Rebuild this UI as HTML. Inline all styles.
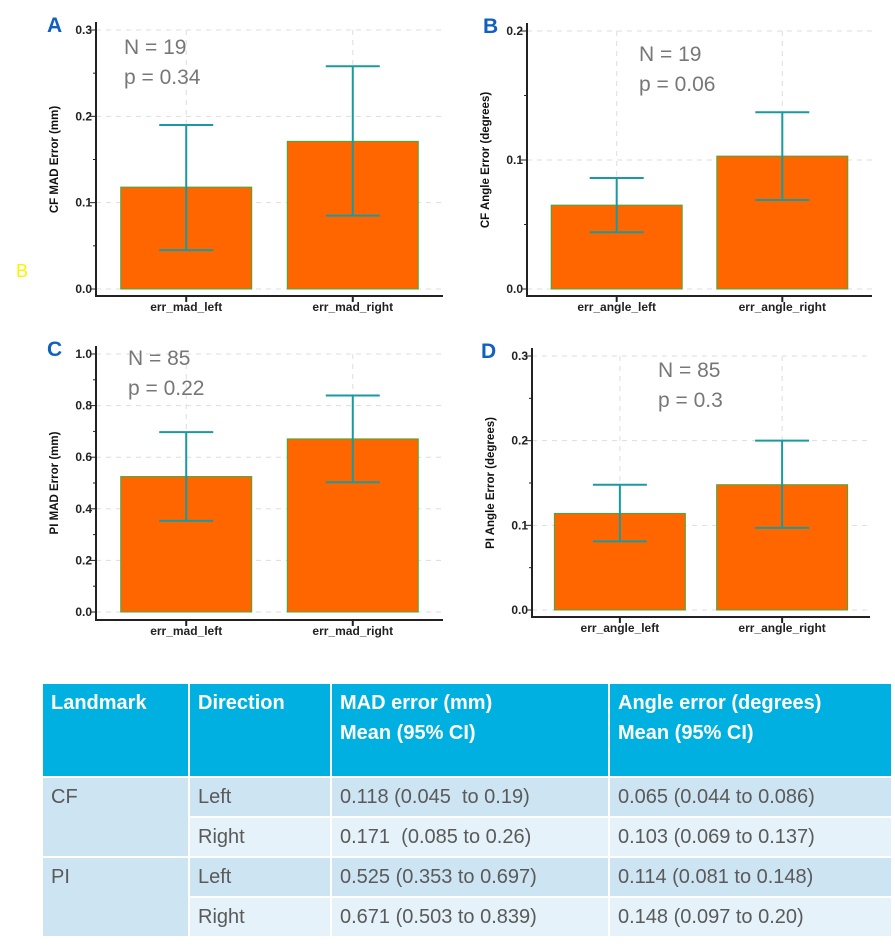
<!DOCTYPE html>
<html><head><meta charset="utf-8">
<style>
body{margin:0;background:#fff;width:895px;height:951px;overflow:hidden;font-family:"Liberation Sans",sans-serif;}
svg{position:absolute;left:0;top:0}
table{position:absolute;left:41px;top:682px;border-collapse:separate;border-spacing:2px;font-family:"Liberation Sans",sans-serif;}
td,th{padding:0 8px;text-align:left;vertical-align:top;font-size:20px;color:#5a5a5a;}
th{background:#00b0e0;color:#fff;font-weight:bold;height:88px;padding-top:4px;line-height:30px}
td{height:38px;line-height:38px}
.d1{background:#cde4f3}.d2{background:#e6f2fa}
</style></head><body>
<svg id="chart" width="895" height="680"></svg>
<table>
<tr><th style="width:129px">Landmark</th><th style="width:124px">Direction</th><th style="width:260px">MAD error (mm)<br>Mean (95% CI)</th><th style="width:265px">Angle error (degrees)<br>Mean (95% CI)</th></tr>
<tr><td rowspan="2" class="d1">CF</td><td class="d1">Left</td><td class="d1">0.118 (0.045&nbsp; to 0.19)</td><td class="d1">0.065 (0.044 to 0.086)</td></tr>
<tr><td class="d2">Right</td><td class="d2">0.171&nbsp; (0.085 to 0.26)</td><td class="d2">0.103 (0.069 to 0.137)</td></tr>
<tr><td rowspan="2" class="d1">PI</td><td class="d1">Left</td><td class="d1">0.525 (0.353 to 0.697)</td><td class="d1">0.114 (0.081 to 0.148)</td></tr>
<tr><td class="d2">Right</td><td class="d2">0.671 (0.503 to 0.839)</td><td class="d2">0.148 (0.097 to 0.20)</td></tr>
</table>
<script>
const madCats=["err_mad_left","err_mad_right"];
const angCats=["err_angle_left","err_angle_right"];
const cfMad=[0.118,0.171], cfMadLo=[0.045,0.085], cfMadHi=[0.19,0.258];
const cfAng=[0.065,0.103], cfAngLo=[0.044,0.069], cfAngHi=[0.086,0.137];
const piMad=[0.525,0.671], piMadLo=[0.353,0.503], piMadHi=[0.697,0.839];
const piAng=[0.114,0.148], piAngLo=[0.081,0.097], piAngHi=[0.148,0.20];
const ticksA=["0.0","0.1","0.2","0.3"], ticksB=["0.0","0.1","0.2"], ticksC=["0.0","0.2","0.4","0.6","0.8","1.0"], ticksD=["0.0","0.1","0.2","0.3"];
const svg=document.getElementById('chart');
const NS="http://www.w3.org/2000/svg";
function mk(t,a,p){const e=document.createElementNS(NS,t);for(const k in a)e.setAttribute(k,a[k]);(p||svg).appendChild(e);return e;}
function chart(o){
 const g=mk('g',{});
 
 
 const max=parseFloat(o.ticks[o.ticks.length-1]);
 const y=v=>o.y0-(v/max)*(o.y0-o.yTop);
 const n=o.cats.length;
 const cx=i=>o.ax+(o.x1-o.ax)*(0.26+0.48*i/(n-1));
 const bw=131;
 o.ticks.forEach((t,i)=>{const v=parseFloat(t);mk('line',{x1:o.ax,x2:o.x1,y1:y(v),y2:y(v),stroke:'#ddd','stroke-dasharray':'5,5'},g);
  const tl=mk('text',{x:o.ax-4,y:y(v)+4,'text-anchor':'end','font-size':12,'font-weight':'bold',fill:'#222'},g);tl.textContent=t;
  
  mk('line',{x1:o.ax-6,x2:o.ax,y1:y(v),y2:y(v),stroke:'#222'},g);
  if(i<o.ticks.length-1){const m=(v+parseFloat(o.ticks[i+1]))/2;mk('line',{x1:o.ax-3,x2:o.ax,y1:y(m),y2:y(m),stroke:'#222'},g);}
 });
 o.cats.forEach((c,i)=>mk('line',{x1:cx(i),x2:cx(i),y1:o.yTop,y2:o.y0,stroke:'#ddd','stroke-dasharray':'5,5'},g));
 o.vals.forEach((v,i)=>{
  const r=mk('rect',{x:cx(i)-bw/2,y:y(v),width:bw,height:o.y0-y(v),fill:'#ff6600',stroke:'#3cae3c','stroke-width':1},g);
  
  const e=mk('path',{d:`M${cx(i)-27},${y(o.hi[i])}H${cx(i)+27}M${cx(i)},${y(o.hi[i])}V${y(o.lo[i])}M${cx(i)-27},${y(o.lo[i])}H${cx(i)+27}`,stroke:'#1a9aa0','stroke-width':2,fill:'none'},g);
  
  mk('line',{x1:cx(i),x2:cx(i),y1:o.axY,y2:o.axY+6,stroke:'#222','stroke-width':2},g);
  const l=mk('text',{x:cx(i),y:o.axY+15,'text-anchor':'middle','font-size':12,'font-weight':'bold',fill:'#222'},g);l.textContent=o.cats[i];
  
 });
 mk('path',{d:`M${o.ax},${o.yTop-8}V${o.axY}H${o.x1}`,stroke:'#222','stroke-width':2,fill:'none'},g);
 const yl=mk('text',{transform:`translate(${o.ax-38},${(o.yTop+o.y0)/2}) rotate(-90)`,'text-anchor':'middle','font-size':11.5,'font-weight':'bold',fill:'#111'},g);yl.textContent=o.ylab;
 
 const L=mk('text',{x:o.lx,y:o.yTop+2,'font-size':21,'font-weight':'bold',fill:'#1060c0'},g);L.textContent=o.id;
 
 o.ann.forEach((s,i)=>{const t=mk('text',{x:o.nx,y:o.ny+i*30,'font-size':21,fill:'#777'},g);t.textContent=s;
  });
}
chart({id:'A',ax:96,x1:443,yTop:30,y0:289,axY:296,ticks:ticksA,cats:madCats,vals:cfMad,lo:cfMadLo,hi:cfMadHi,ylab:'CF MAD Error (mm)',lx:47,nx:124,ny:54,ann:['N = 19','p = 0.34']});
chart({id:'B',ax:527,x1:872,yTop:31,y0:289,axY:296,ticks:ticksB,cats:angCats,vals:cfAng,lo:cfAngLo,hi:cfAngHi,ylab:'CF Angle Error (degrees)',lx:483,nx:639,ny:61,ann:['N = 19','p = 0.06']});
chart({id:'C',ax:96,x1:443,yTop:354,y0:612,axY:620,ticks:ticksC,cats:madCats,vals:piMad,lo:piMadLo,hi:piMadHi,ylab:'PI MAD Error (mm)',lx:47,nx:128,ny:365,ann:['N = 85','p = 0.22']});
chart({id:'D',ax:532,x1:870,yTop:356,y0:610,axY:617,ticks:ticksD,cats:angCats,vals:piAng,lo:piAngLo,hi:piAngHi,ylab:'PI Angle Error (degrees)',lx:481,nx:658,ny:377,ann:['N = 85','p = 0.3']});
const b=mk('text',{x:16,y:277,'font-size':18,fill:'#f5f500'});b.textContent='B';


</script>
</body></html>
